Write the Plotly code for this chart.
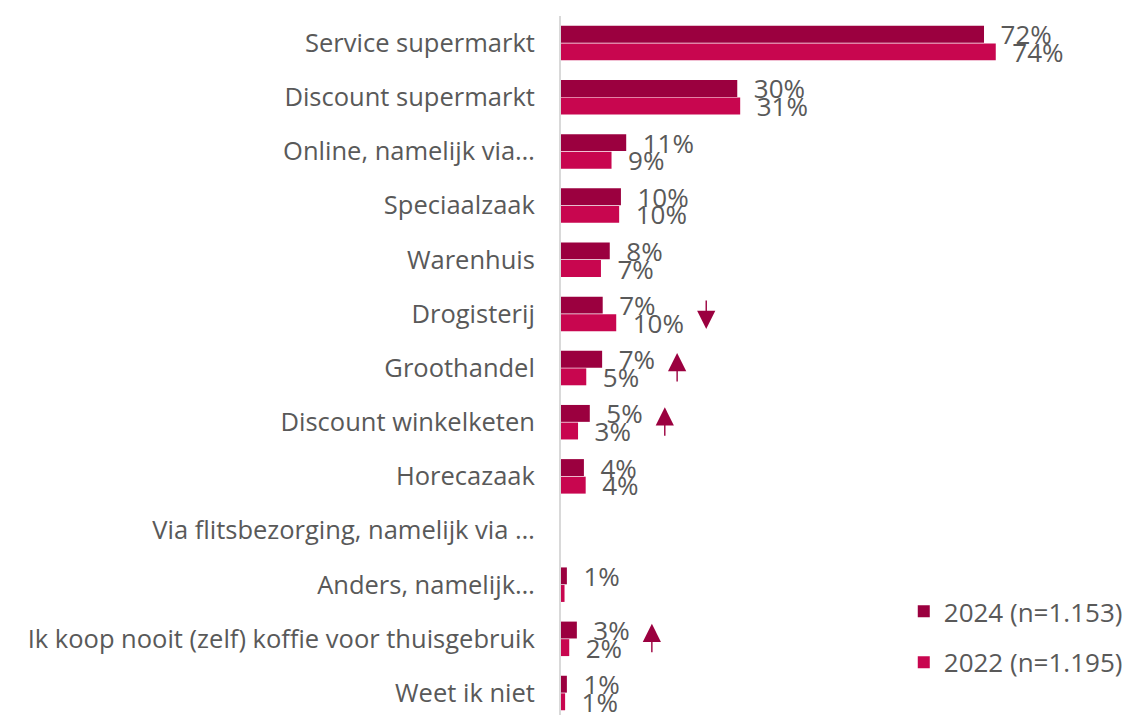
import plotly.graph_objects as go

categories = [
    "Service supermarkt",
    "Discount supermarkt",
    "Online, namelijk via…",
    "Speciaalzaak",
    "Warenhuis",
    "Drogisterij",
    "Groothandel",
    "Discount winkelketen",
    "Horecazaak",
    "Via flitsbezorging, namelijk via …",
    "Anders, namelijk…",
    "Ik koop nooit (zelf) koffie voor thuisgebruik",
    "Weet ik niet",
]
values_2024 = [72.0, 30.0, 11.1, 10.2, 8.3, 7.1, 7.0, 4.9, 3.9, 0.0, 1.0, 2.7, 1.0]
values_2022 = [74.0, 30.5, 8.6, 9.9, 6.8, 9.4, 4.3, 2.9, 4.2, 0.0, 0.6, 1.4, 0.7]
labels_2024 = ["72%", "30%", "11%", "10%", "8%", "7%", "7%", "5%", "4%", "", "1%", "3%", "1%"]
labels_2022 = ["74%", "31%", "9%", "10%", "7%", "10%", "5%", "3%", "4%", "", "", "2%", "1%"]
series_names = ["2024 (n=1.153)", "2022 (n=1.195)"]

arrow_categories = ["Drogisterij", "Groothandel", "Discount winkelketen",
                    "Ik koop nooit (zelf) koffie voor thuisgebruik"]
arrow_directions = ["down", "up", "up", "up"]

C2024 = "#9B003F"
C2022 = "#C8064F"
TXT = "#595959"
FONT = "Open Sans"

fig = go.Figure()
for name, vals, labs, col, grp in [
    (series_names[0], values_2024, labels_2024, C2024, "a"),
    (series_names[1], values_2022, labels_2022, C2022, "b"),
]:
    fig.add_trace(go.Bar(
        y=categories, x=vals, orientation="h", name=name,
        marker=dict(color=col, line=dict(width=0)),
        text=["  " + t if t else "" for t in labs],
        textposition="outside", cliponaxis=False, constraintext="none",
        textfont=dict(family=FONT, size=26, color=TXT),
        legendgroup=grp,
    ))

for cat, d in zip(arrow_categories, arrow_directions):
    i = categories.index(cat)
    mx = max(values_2024[i], values_2022[i])
    lab = labels_2022[i] if values_2022[i] >= values_2024[i] else labels_2024[i]
    fig.add_annotation(
        x=mx, y=cat, xref="x", yref="y",
        xshift=45 + 15 * len(lab),
        yshift=15 if d == "up" else -15,
        ax=0, ay=30 if d == "up" else -30, axref="pixel", ayref="pixel",
        showarrow=True, arrowhead=2, arrowsize=2.6, arrowwidth=1.4,
        arrowcolor=C2024, text="",
    )

fig.update_layout(
    width=1132, height=715,
    margin=dict(l=553, r=0, t=8, b=0),
    paper_bgcolor="white", plot_bgcolor="white",
    barmode="group", bargap=0.35, bargroupgap=0.04,
    font=dict(family=FONT, color=TXT),
    showlegend=True,
    legend=dict(
        x=0.592, y=0.191, xanchor="left", yanchor="top",
        font=dict(family=FONT, size=26, color=TXT),
        traceorder="grouped", tracegroupgap=14,
        bgcolor="rgba(0,0,0,0)",
    ),
)
fig.update_xaxes(range=[0, 98.55], showgrid=False, zeroline=False,
                 showticklabels=False, showline=False, ticks="")
fig.update_yaxes(range=[12.554, -0.5], showgrid=False, zeroline=False,
                 showline=True, linecolor="#D9D9D9", linewidth=2,
                 ticks="", ticklabelstandoff=19,
                 tickfont=dict(family=FONT, size=25.5, color=TXT))

fig.write_html("out.html")
